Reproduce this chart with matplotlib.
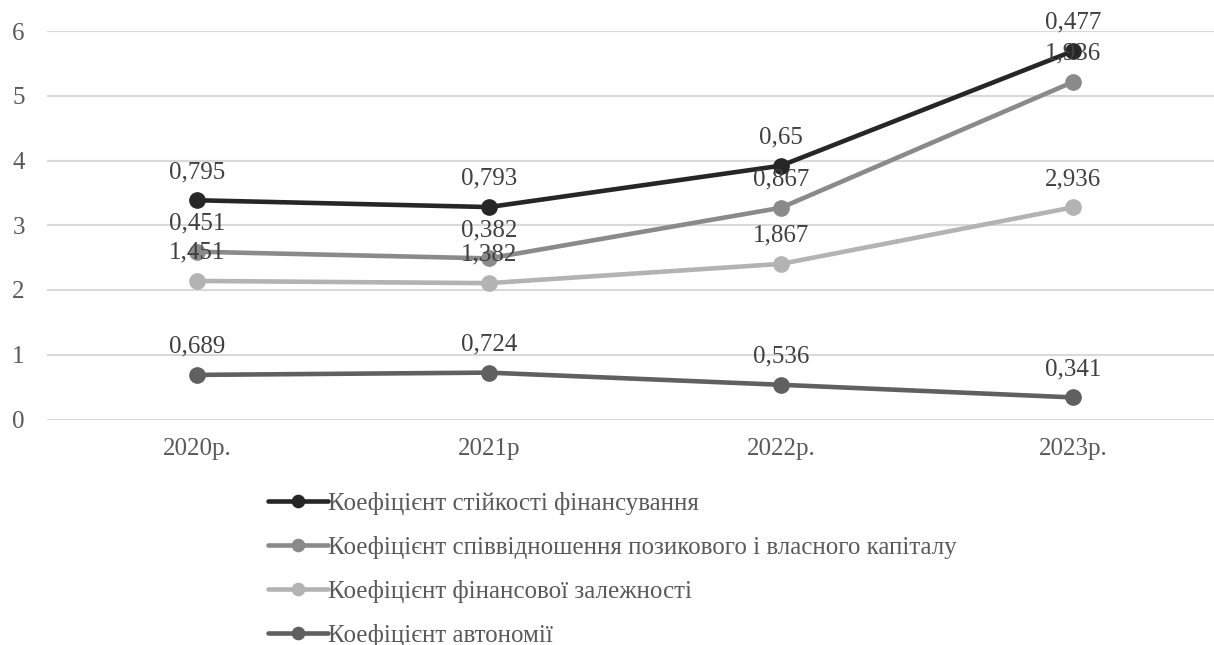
import matplotlib
matplotlib.use("Agg")
from matplotlib import pyplot as plt
import numpy as np

plt.rcParams['font.family'] = ['Liberation Serif', 'DejaVu Serif']

years = ['2020р.', '2021р', '2022р.', '2023р.']

# значення коефіцієнтів (графік з накопиченням)
avtonomiia = [0.689, 0.724, 0.536, 0.341]
zalezhnist = [1.451, 1.382, 1.867, 2.936]
spivvidnoshennia = [0.451, 0.382, 0.867, 1.936]
stiikist = [0.795, 0.793, 0.65, 0.477]

names = ['Коефіцієнт автономії',
         'Коефіцієнт фінансової залежності',
         'Коефіцієнт співвідношення позикового і власного капіталу',
         'Коефіцієнт стійкості фінансування']
colors = ['#606060', '#b3b3b3', '#8a8a8a', '#262626']
fs = 18

fig = plt.figure(figsize=(12.14, 6.45), dpi=100)
ax = fig.add_axes([47 / 1214, 1 - 419.5 / 645, 1 - 47 / 1214, (419.5 - 31) / 645])

x = np.arange(len(years))
series = [avtonomiia, zalezhnist, spivvidnoshennia, stiikist]
base = np.zeros(len(years))
lines = []
for vals, name, c in zip(series, names, colors):
    top = base + np.array(vals)
    ln, = ax.plot(x, top, color=c, lw=3.3, marker='o', ms=11, zorder=3,
                  label=name, solid_capstyle='round')
    lines.append(ln)
    for xi, yi, v in zip(x, top, vals):
        ax.annotate(f'{v:g}'.replace('.', ','), (xi, yi), xytext=(0, 16),
                    textcoords='offset points', ha='center', va='baseline',
                    fontsize=fs, color='#404040', zorder=4)
    base = top

ax.set_xlim(-150 / 292, 3 + 141 / 292)
ax.set_ylim(0, 6)
ax.set_yticks(range(7))
ax.set_xticks(x)
ax.set_xticklabels(years)
ax.tick_params(axis='both', length=0, labelsize=fs, labelcolor='#595959')
ax.tick_params(axis='x', pad=13)
ax.tick_params(axis='y', pad=16)
ax.grid(axis='y', color='#d9d9d9', lw=1.5)
ax.set_axisbelow(True)
for s in ax.spines.values():
    s.set_visible(False)

# легенда під графіком, у зворотному порядку
fig.legend(lines[::-1], names[::-1], loc='upper left',
           bbox_to_anchor=(268 / 1214, 1 - 492 / 645), frameon=False,
           fontsize=fs, handlelength=2.4, handletextpad=0.0,
           labelspacing=0.84, borderpad=0, borderaxespad=0,
           markerscale=0.8, labelcolor='#595959')

fig.savefig('out.png', dpi=100)
